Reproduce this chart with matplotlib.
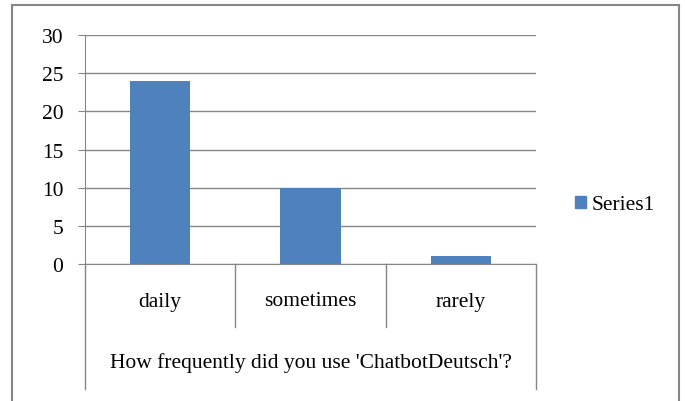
import matplotlib
matplotlib.use("Agg")
import matplotlib.pyplot as plt
from matplotlib.lines import Line2D
from matplotlib.patches import Patch
import matplotlib.transforms as mtransforms

categories = ["daily", "sometimes", "rarely"]
values = [24, 10, 1]
series_name = "Series1"
axis_title = "How frequently did you use 'ChatbotDeutsch'?"
yticks = [0, 5, 10, 15, 20, 25, 30]

plt.rcParams['font.family'] = ['Liberation Serif', 'DejaVu Serif']
fs = 15.5

W, H = 685, 402
fig = plt.figure(figsize=(W / 100, H / 100), dpi=100)

# outer chart border
border = '#868686'
fig.add_artist(Line2D([12 / W, 12 / W], [0, 1 - 6 / H], color=border, lw=1.5))
fig.add_artist(Line2D([12 / W, 679 / W], [1 - 6 / H, 1 - 6 / H], color=border, lw=1.5))
fig.add_artist(Line2D([679 / W, 679 / W], [0, 1 - 6 / H], color=border, lw=1.5))

ax = fig.add_axes([85 / W, 1 - 265 / H, (536 - 85) / W, (265 - 36) / H])
grey = '#868686'
x = [i + 0.5 for i in range(len(categories))]
ax.bar(x, values, width=0.4, color='#4F81BD', zorder=3)
ax.set_xlim(0, len(categories))
ax.set_ylim(0, 30)
ax.set_yticks(yticks)
ax.yaxis.grid(True, color=grey, lw=1)
ax.set_axisbelow(True)
for s in ['top', 'right']:
    ax.spines[s].set_visible(False)
ax.spines['left'].set_color(grey)
ax.spines['bottom'].set_color(grey)
ax.tick_params(axis='y', length=5, color=grey, labelsize=fs, pad=10.5)
ax.set_xticks([])

# category separators and label boxes
trans = mtransforms.blended_transform_factory(ax.transData, ax.transAxes)
ax_h = 265 - 36
for i in range(len(categories) + 1):
    bottom = -(390 - 265) / ax_h if i in (0, len(categories)) else -(328 - 265) / ax_h
    ax.add_line(Line2D([i, i], [0, bottom], transform=trans, color=grey, lw=1, clip_on=False))
for xi, c in zip(x, categories):
    ax.text(xi, -(302 - 265) / ax_h, c, transform=trans, ha='center', va='center', fontsize=fs)
ax.text(len(categories) / 2, -(363 - 265) / ax_h, axis_title, transform=trans,
        ha='center', va='center', fontsize=fs)

fig.legend(handles=[Patch(color='#4F81BD', label=series_name)], loc='center left',
           bbox_to_anchor=(556 / W, 1 - 206 / H), frameon=False, fontsize=fs,
           handlelength=0.5, handleheight=0.5, handletextpad=0.25)

fig.savefig("out.png", dpi=100)
